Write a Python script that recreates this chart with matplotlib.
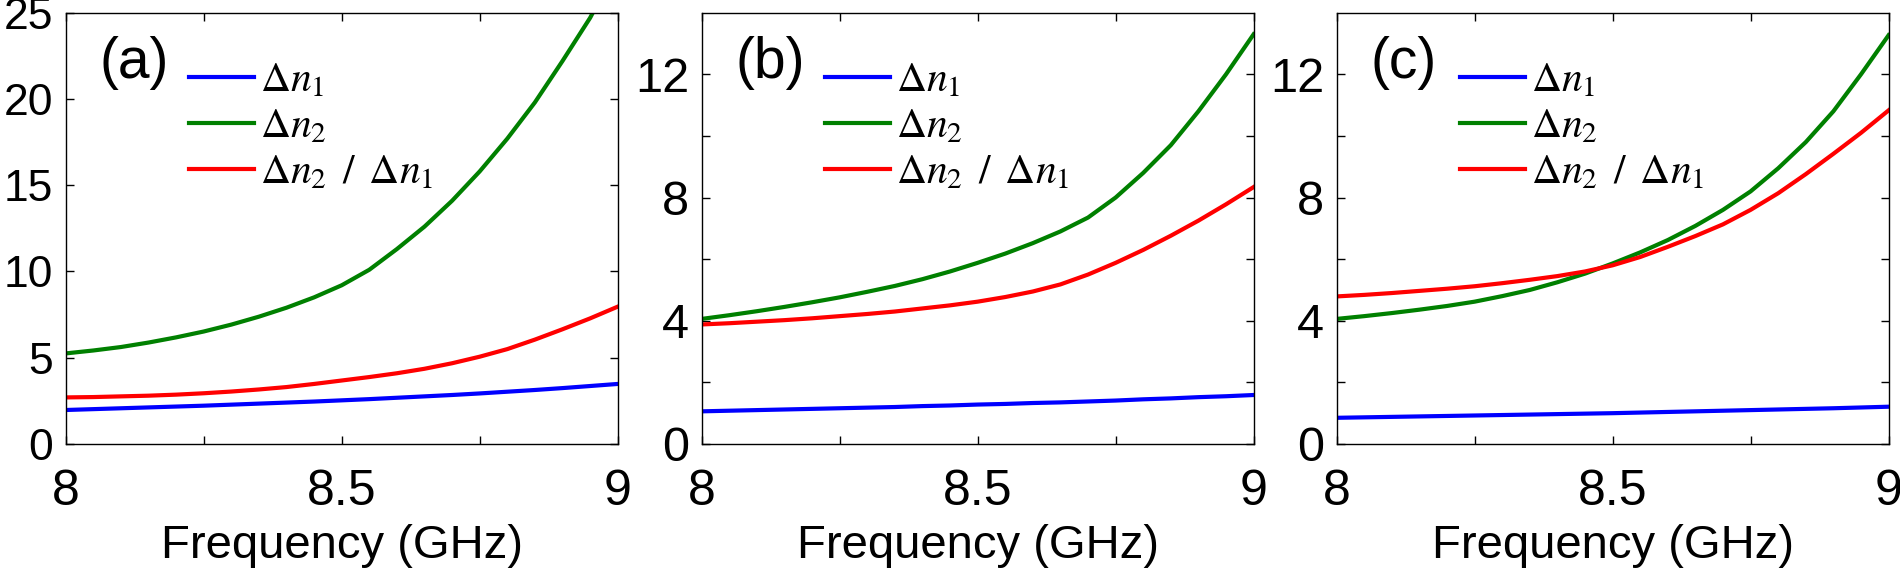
import matplotlib.pyplot as plt

plt.rcParams['font.family'] = ['Liberation Sans', 'DejaVu Sans']
plt.rcParams['mathtext.fontset'] = 'stix'

# frequency points (GHz)
freq = [8.0, 8.05, 8.1, 8.15, 8.2, 8.25, 8.3, 8.35, 8.4, 8.45, 8.5,
        8.55, 8.6, 8.65, 8.7, 8.75, 8.8, 8.85, 8.9, 8.95, 9.0]
freq_a2 = freq[:-1] + [8.96]  # green curve of (a) leaves the top of the box

# panel (a)
a_dn1 = [1.97, 2.02, 2.07, 2.12, 2.17, 2.22, 2.28, 2.34, 2.40, 2.46, 2.53,
         2.60, 2.68, 2.76, 2.84, 2.93, 3.03, 3.13, 3.24, 3.36, 3.48]
a_dn2 = [5.25, 5.42, 5.62, 5.88, 6.18, 6.52, 6.92, 7.38, 7.90, 8.50, 9.20,
         10.1, 11.3, 12.6, 14.1, 15.8, 17.7, 19.8, 22.2, 24.7, 25.3]
a_ratio = [2.70, 2.72, 2.76, 2.80, 2.86, 2.94, 3.04, 3.16, 3.30, 3.48, 3.68,
           3.88, 4.10, 4.36, 4.68, 5.06, 5.50, 6.05, 6.65, 7.28, 7.96]

# panel (b)
b_dn1 = [1.06, 1.08, 1.10, 1.12, 1.14, 1.16, 1.18, 1.20, 1.23, 1.25, 1.28,
         1.30, 1.33, 1.35, 1.38, 1.41, 1.45, 1.48, 1.52, 1.55, 1.59]
b_dn2 = [4.06, 4.18, 4.31, 4.45, 4.60, 4.76, 4.94, 5.13, 5.35, 5.60, 5.88,
         6.18, 6.52, 6.90, 7.35, 8.00, 8.80, 9.70, 10.8, 12.0, 13.3]
b_ratio = [3.88, 3.92, 3.97, 4.02, 4.08, 4.15, 4.22, 4.30, 4.40, 4.50, 4.62,
           4.77, 4.95, 5.18, 5.50, 5.88, 6.30, 6.76, 7.25, 7.78, 8.34]

# panel (c)
c_dn1 = [0.85, 0.865, 0.88, 0.895, 0.91, 0.925, 0.94, 0.955, 0.97, 0.985, 1.00,
         1.02, 1.04, 1.06, 1.08, 1.10, 1.12, 1.14, 1.16, 1.185, 1.21]
c_dn2 = [4.06, 4.15, 4.25, 4.36, 4.48, 4.62, 4.80, 5.00, 5.25, 5.53, 5.86,
         6.22, 6.62, 7.08, 7.60, 8.20, 8.95, 9.80, 10.8, 12.0, 13.27]
c_ratio = [4.79, 4.84, 4.90, 4.97, 5.04, 5.12, 5.22, 5.33, 5.45, 5.60, 5.80,
           6.07, 6.40, 6.75, 7.13, 7.60, 8.14, 8.76, 9.42, 10.1, 10.83]

panel_labels = ['(a)', '(b)', '(c)']
legend_labels = [r'$\Delta n_1$', r'$\Delta n_2$', r'$\Delta n_2\ \,/\ \,\Delta n_1$']
x_ticks = [8, 8.25, 8.5, 8.75, 9]
x_ticklabels = ['8', '', '8.5', '', '9']

colors = ['#0000ff', '#008000', '#ff0000']

fig = plt.figure(figsize=(19, 5.72), dpi=100)
lefts = [0.0346, 0.3693, 0.7035]
axes = [fig.add_axes([l, 0.2238, 0.2905, 0.754]) for l in lefts]

data = [
    ((freq, a_dn1), (freq_a2, a_dn2), (freq, a_ratio)),
    ((freq, b_dn1), (freq, b_dn2), (freq, b_ratio)),
    ((freq, c_dn1), (freq, c_dn2), (freq, c_ratio)),
]

for k, ax in enumerate(axes):
    for (x, y), c, lab in zip(data[k], colors, legend_labels):
        ax.plot(x, y, color=c, lw=3, label=lab)
    ax.set_xlim(8, 9)
    ax.set_xticks(x_ticks)
    ax.set_xticklabels(x_ticklabels)
    if k == 0:
        ax.set_ylim(0, 25)
        ax.set_yticks([0, 5, 10, 15, 20, 25])
        ysize = 32
    else:
        ax.set_ylim(0, 14)
        ax.set_yticks([0, 2, 4, 6, 8, 10, 12])
        ax.set_yticklabels(['0', '', '4', '', '8', '', '12'])
        ysize = 35
    ax.tick_params(direction='in', top=True, right=True, length=6, width=1)
    ax.tick_params(axis='x', labelsize=36, pad=18)
    ax.tick_params(axis='y', labelsize=ysize, pad=9)
    for sp in ax.spines.values():
        sp.set_linewidth(1)
    ax.set_xlabel('Frequency (GHz)', fontsize=34)
    ax.xaxis.set_label_coords(0.5, -0.185)
    ax.text(0.062, 0.883, panel_labels[k], transform=ax.transAxes,
            fontsize=41, ha='left', va='center')
    ax.legend(loc='upper left', bbox_to_anchor=(0.224, 0.89), frameon=False,
              fontsize=30, handlelength=1.55, handletextpad=0.15,
              labelspacing=0.15, borderpad=0, borderaxespad=0)

fig.savefig('out.png', dpi=100)
